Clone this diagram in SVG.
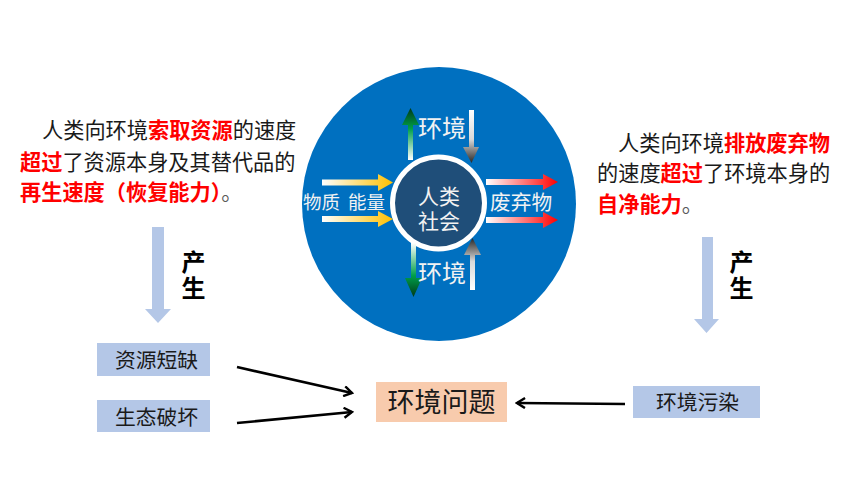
<svg xmlns="http://www.w3.org/2000/svg" width="860" height="484" viewBox="0 0 860 484">
<style>
  text { font-family: "Noto Sans CJK SC", "Noto Sans", sans-serif; }
  .body { font-size: 21.2px; fill: #1a1a1a; }
  .red { fill: #ff0000; font-weight: bold; }
  .gray { fill: #595959; }
  .wt { fill: #f2f2f2; }
  .gen { font-size: 24px; font-weight: bold; fill: #000; writing-mode: vertical-rl; letter-spacing: 2px; }
  .bluebox { fill: #b4c7e7; }
  .lbl { font-size: 20.8px; fill: #1a1a1a; text-anchor: middle; }
  .con { stroke: #000; stroke-width: 2.6; fill: none; marker-end: url(#chev); }
  .big { fill: #b4c7e7; }
</style>
<defs>
  <marker id="chev" viewBox="0 0 12 12" refX="10" refY="6" markerWidth="12" markerHeight="12" markerUnits="userSpaceOnUse" orient="auto">
    <polyline points="2,1 10,6 2,11" fill="none" stroke="#000" stroke-width="2.4"/>
  </marker>
  <linearGradient id="gUp" x1="0" y1="0" x2="0" y2="1">
    <stop offset="0" stop-color="#003a18"/>
    <stop offset="0.4" stop-color="#00a04a"/>
    <stop offset="1" stop-color="#ffffff"/>
  </linearGradient>
  <linearGradient id="gDown" x1="0" y1="1" x2="0" y2="0">
    <stop offset="0" stop-color="#003a18"/>
    <stop offset="0.4" stop-color="#00a04a"/>
    <stop offset="1" stop-color="#ffffff"/>
  </linearGradient>
  <linearGradient id="kDown" x1="0" y1="0" x2="0" y2="1">
    <stop offset="0" stop-color="#ffffff"/>
    <stop offset="0.55" stop-color="#d9d9d9"/>
    <stop offset="1" stop-color="#262626"/>
  </linearGradient>
  <linearGradient id="kUp" x1="0" y1="1" x2="0" y2="0">
    <stop offset="0" stop-color="#ffffff"/>
    <stop offset="0.55" stop-color="#d9d9d9"/>
    <stop offset="1" stop-color="#262626"/>
  </linearGradient>
  <linearGradient id="yel" x1="0" y1="0" x2="1" y2="0">
    <stop offset="0" stop-color="#ffffff"/>
    <stop offset="1" stop-color="#ffc000"/>
  </linearGradient>
  <linearGradient id="rd" x1="0" y1="0" x2="1" y2="0">
    <stop offset="0" stop-color="#ffffff"/>
    <stop offset="1" stop-color="#ff0000"/>
  </linearGradient>
</defs>
<rect width="860" height="484" fill="#ffffff"/>

<g id="left-text">
  <text class="body" y="138"><tspan x="42">人类向环境</tspan><tspan class="red">索取资源</tspan><tspan>的速度</tspan></text>
  <text class="body" y="170"><tspan x="20" class="red">超过</tspan><tspan>了资源本身及其替代品的</tspan></text>
  <text class="body" y="200"><tspan x="20" class="red">再生速度（恢复能力）</tspan><tspan class="gray">。</tspan></text>
</g>

<g id="right-text">
  <text class="body" y="151"><tspan x="618">人类向环境</tspan><tspan class="red">排放废弃物</tspan></text>
  <text class="body" y="181"><tspan x="597">的速度</tspan><tspan class="red">超过</tspan><tspan>了环境本身的</tspan></text>
  <text class="body" y="212"><tspan x="597" class="red">自净能力</tspan><tspan class="gray">。</tspan></text>
</g>

<g id="cycle">
  <circle cx="439" cy="204" r="137" fill="#0070c0"/>
  <circle cx="438.5" cy="203" r="46" fill="#1f4e79" stroke="#ffffff" stroke-width="5"/>
  <text class="wt" font-size="21" text-anchor="middle"><tspan x="439" y="204">人类</tspan><tspan x="439" dy="25">社会</tspan></text>
  <polygon points="408,160 408,125 402,125 410.5,108 419,125 413,125 413,160" fill="url(#gUp)"/>
  <polygon points="469,110 474,110 474,147 479,147 471.5,163 463,147 469,147" fill="url(#kDown)"/>
  <polygon points="411,243 416,243 416,278 422,278 413.5,297 405,278 411,278" fill="url(#gDown)"/>
  <polygon points="470,290 470,255 464,255 472.5,238 481,255 475,255 475,290" fill="url(#kUp)"/>
  <polygon points="322,179.5 378,179.5 378,174 393,182.5 378,191 378,185.5 322,185.5" fill="url(#yel)"/>
  <polygon points="322,216 378,216 378,211 393,219 378,227 378,222 322,222" fill="url(#yel)"/>
  <polygon points="486,179 543,179 543,174 558,182 543,190 543,185 486,185" fill="url(#rd)"/>
  <polygon points="486,217 543,217 543,212 558,220 543,228 543,223 486,223" fill="url(#rd)"/>
  <text class="wt" x="418" y="137" font-size="24">环境</text>
  <text class="wt" x="418" y="282" font-size="24">环境</text>
  <text class="wt" x="303" y="209" font-size="18.5">物质 <tspan x="348">能量</tspan></text>
  <text class="wt" x="490" y="210" font-size="20.7">废弃物</text>
</g>

<g id="left-produce">
  <polygon class="big" points="152,227 164,227 164,309 171,309 158,323 145,309 152,309"/>
  <text class="gen" x="193.5" y="250">产生</text>
</g>

<g id="right-produce">
  <polygon class="big" points="702,237 713,237 713,319 719,319 706.5,333 694,319 702,319"/>
  <text class="gen" x="741.5" y="250">产生</text>
</g>

<g id="node-shortage">
  <rect class="bluebox" x="97" y="343" width="113" height="33"/>
  <text class="lbl" x="156.5" y="368">资源短缺</text>
</g>
<g id="node-eco">
  <rect class="bluebox" x="97" y="400" width="113" height="32"/>
  <text class="lbl" x="156.5" y="425">生态破坏</text>
</g>
<g id="node-problem">
  <rect x="376" y="382" width="131" height="40" fill="#f8cbad"/>
  <text x="441.5" y="412" font-size="27" fill="#1a1a1a" text-anchor="middle">环境问题</text>
</g>
<g id="node-pollution">
  <rect class="bluebox" x="633" y="386" width="127" height="32"/>
  <text class="lbl" x="697.5" y="410" font-size="21">环境污染</text>
</g>

<g id="connectors">
  <line class="con" x1="237" y1="367" x2="352" y2="393"/>
  <line class="con" x1="237" y1="423" x2="352" y2="412"/>
  <line class="con" x1="625" y1="404" x2="517" y2="403"/>
</g>
</svg>
